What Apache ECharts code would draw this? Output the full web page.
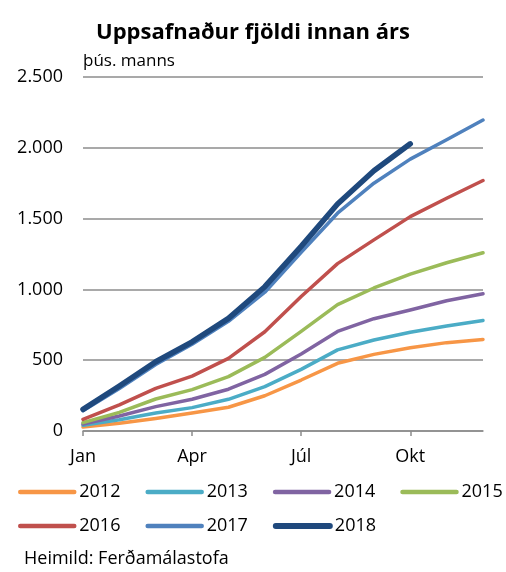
<!DOCTYPE html>
<html lang="is">
  <head>
    <meta charset="UTF-8" />
    <title>Uppsafnaður fjöldi innan árs</title>
    <script src="https://cdn.jsdelivr.net/npm/echarts@6/dist/echarts.min.js"></script>
    <style>
      body { margin: 0; background: #fff; }
    </style>
  </head>
  <body>
    <div id="main" style="width: 506px; height: 572px"></div>

    <script type="text/javascript">
      // months on the x axis (only every 3rd one is labelled)
      const months = ["Jan", "Feb", "Mar", "Apr", "Maí", "Jún", "Júl", "Ágú", "Sep", "Okt", "Nóv", "Des"];

      // cumulative visitors, thousands
      const y2012 = [28, 54, 89, 127, 168, 249, 360, 478, 541, 588, 624, 647];
      const y2013 = [40, 80, 127, 165, 224, 313, 435, 573, 643, 697, 741, 781];
      const y2014 = [49, 106, 172, 224, 295, 400, 544, 703, 793, 854, 920, 969];
      const y2015 = [59, 132, 226, 292, 384, 520, 704, 892, 1010, 1108, 1188, 1259];
      const y2016 = [82, 185, 301, 388, 513, 701, 950, 1182, 1350, 1514, 1644, 1769];
      const y2017 = [143, 300, 470, 612, 775, 980, 1262, 1538, 1750, 1920, 2057, 2196];
      const y2018 = [153, 318, 489, 630, 795, 1019, 1304, 1603, 1838, 2028, null, null];

      const years = ["2012", "2013", "2014", "2015", "2016", "2017", "2018"];
      const values = [y2012, y2013, y2014, y2015, y2016, y2017, y2018];
      const colors = ["#F79646", "#4BACC6", "#8064A2", "#9BBB59", "#C0504D", "#4F81BD", "#1F497D"];

      const font = "'Open Sans', sans-serif";
      let myChart = echarts.init(document.getElementById("main"));

      const series = years.map((y, i) => ({
        name: y,
        type: "line",
        data: values[i],
        symbol: "none",
        color: colors[i],
        lineStyle: { width: y === "2018" ? 5.5 : 3.5, cap: "round", join: "round" },
      }));

      // legend entries with thicker line for 2018
      const legendItems = years.map((y) => ({
        name: y,
        lineStyle: { width: y === "2018" ? 6 : 4.5, cap: "round" },
      }));

      // two legend rows, same column spacing
      const legendCommon = {
        left: 18,
        width: 500,
        padding: 0,
        itemWidth: 54,
        itemHeight: 10,
        itemGap: 25,
        itemStyle: { opacity: 0 },
        textStyle: { fontFamily: font, fontSize: 18, color: "#000", width: 45 },
      };

      let options = {
        animation: false,
        title: [
          {
            text: "Uppsafnaður fjöldi innan árs",
            left: "center",
            top: 17,
            textStyle: { fontFamily: font, fontSize: 22, fontWeight: "bold", color: "#000" },
          },
          {
            text: "Heimild: Ferðamálastofa",
            left: 19,
            top: 545,
            textStyle: { fontFamily: font, fontSize: 18, fontWeight: "normal", color: "#000" },
          },
        ],
        legend: [
          Object.assign({ top: 483, data: legendItems.slice(0, 4) }, legendCommon),
          Object.assign({ top: 517, data: legendItems.slice(4) }, legendCommon),
        ],
        grid: { left: 83, right: 23, top: 77, bottom: 141 },
        xAxis: {
          type: "category",
          data: months,
          boundaryGap: false,
          axisLine: { lineStyle: { color: "#8c8c8c", width: 1.5 } },
          axisTick: { interval: 2, length: 5, lineStyle: { color: "#8c8c8c", width: 1.5 } },
          axisLabel: { interval: 2, margin: 17, fontFamily: font, fontSize: 18, color: "#000" },
        },
        yAxis: {
          type: "value",
          min: 0,
          max: 2500,
          interval: 500,
          name: "þús. manns",
          nameLocation: "end",
          nameGap: 7,
          nameTextStyle: { align: "left", verticalAlign: "bottom", fontFamily: font, fontSize: 17, color: "#000" },
          axisLine: { show: false },
          axisTick: { show: false },
          axisLabel: {
            margin: 20,
            fontFamily: font,
            fontSize: 18,
            color: "#000",
            formatter: (v) => String(v).replace(/\B(?=(\d{3})+(?!\d))/g, "."),
          },
          splitLine: { lineStyle: { color: "#8c8c8c", width: 1.5 } },
        },
        series: series,
      };

      myChart.setOption(options);
    </script>
  </body>
</html>
